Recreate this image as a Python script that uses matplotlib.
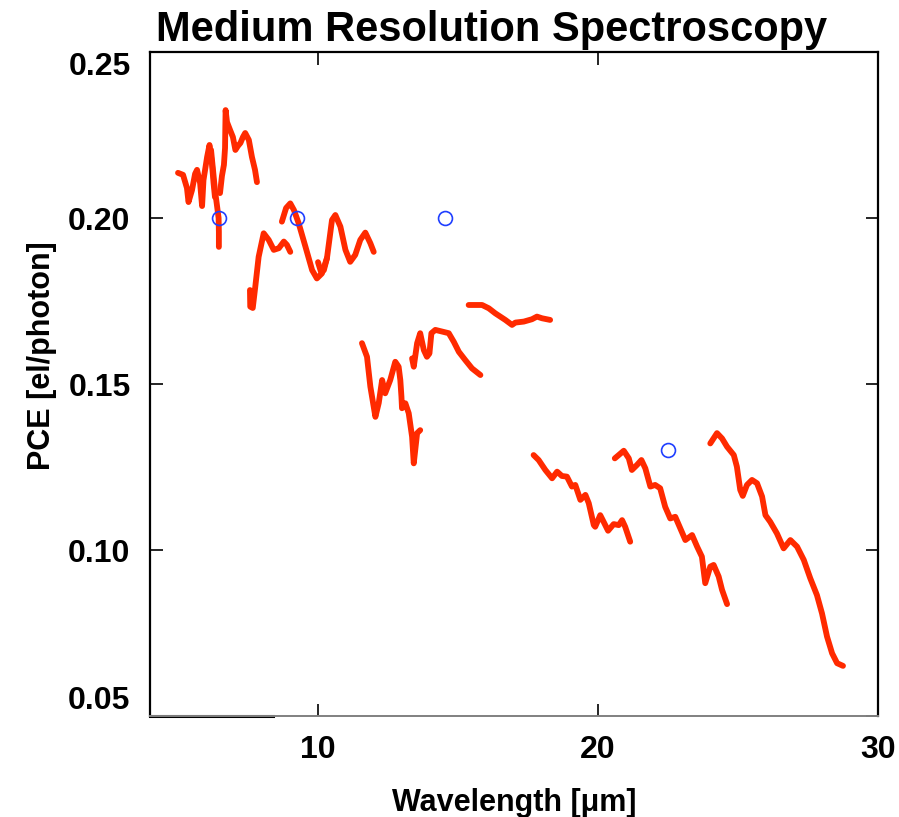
import matplotlib
matplotlib.use("Agg")
import numpy as np
from matplotlib import pyplot as plt

plt.rcParams['font.family'] = ['Liberation Sans', 'DejaVu Sans']
plt.rcParams['font.weight'] = 'bold'

# PCE curves, one per spectral sub-band (wavelength in um, PCE in el/photon)
wl_1 = [5.00, 5.18, 5.32, 5.375, 5.50, 5.61, 5.68, 5.79, 5.86, 5.91, 6.04, 6.125, 6.21, 6.27, 6.32]
pce_1 = [0.2136, 0.2130, 0.2090, 0.2048, 0.2084, 0.2133, 0.2145, 0.2105, 0.2036, 0.2114, 0.2184, 0.2220, 0.2166, 0.2105, 0.2063]

wl_2 = [6.18, 6.25, 6.32, 6.39, 6.45, 6.46, 6.46]
pce_2 = [0.2205, 0.2145, 0.2084, 0.2039, 0.2000, 0.1958, 0.1913]

wl_3 = [6.50, 6.57, 6.64, 6.68, 6.69, 6.70, 6.75, 6.86, 6.96, 7.05, 7.14, 7.23, 7.32, 7.40, 7.53, 7.64, 7.75, 7.82]
pce_3 = [0.2075, 0.2127, 0.2160, 0.2211, 0.2271, 0.2325, 0.2289, 0.2265, 0.2244, 0.2205, 0.2217, 0.2226, 0.2244, 0.2256, 0.2235, 0.2184, 0.2145, 0.2108]

wl_4 = [7.57, 7.58, 7.67, 7.76, 7.88, 8.06, 8.24, 8.42, 8.60, 8.78, 8.89, 9.01]
pce_4 = [0.1783, 0.1733, 0.1729, 0.1793, 0.1883, 0.1954, 0.1934, 0.1904, 0.1909, 0.1929, 0.1919, 0.1898]

wl_5 = [8.71, 8.86, 9.01, 9.14, 9.31, 9.55, 9.79, 9.96, 10.14, 10.32]
pce_5 = [0.1989, 0.2030, 0.2044, 0.2024, 0.1984, 0.1914, 0.1843, 0.1818, 0.1833, 0.1879]

wl_6 = [10.00, 10.11, 10.21, 10.32, 10.50, 10.62, 10.80, 10.98, 11.15, 11.33, 11.51, 11.69, 11.87, 11.99]
pce_6 = [0.1867, 0.1837, 0.1843, 0.1879, 0.1994, 0.2009, 0.1974, 0.1904, 0.1868, 0.1889, 0.1934, 0.1956, 0.1924, 0.1898]

wl_7 = [11.57, 11.75, 11.87, 12.05, 12.17, 12.29, 12.40, 12.58, 12.76, 12.88, 12.94, 12.98, 13.00, 13.12, 13.24, 13.36, 13.42, 13.54, 13.65]
pce_7 = [0.1623, 0.1582, 0.1492, 0.1401, 0.1443, 0.1512, 0.1472, 0.1512, 0.1567, 0.1552, 0.1512, 0.1462, 0.1427, 0.1442, 0.1412, 0.1341, 0.1261, 0.1352, 0.1361]

wl_8 = [13.36, 13.42, 13.54, 13.65, 13.78, 13.89, 13.98, 14.05, 14.19, 14.43, 14.67, 14.85, 15.03, 15.26, 15.50, 15.80]
pce_8 = [0.1577, 0.1552, 0.1623, 0.1653, 0.1602, 0.1582, 0.1592, 0.1653, 0.1663, 0.1658, 0.1653, 0.1627, 0.1597, 0.1572, 0.1547, 0.1527]

wl_9 = [15.38, 15.86, 16.10, 16.33, 16.69, 16.93, 17.05, 17.35, 17.64, 17.82, 18.00, 18.29]
pce_9 = [0.1738, 0.1738, 0.1728, 0.1713, 0.1693, 0.1678, 0.1685, 0.1688, 0.1695, 0.1703, 0.1698, 0.1693]

wl_10 = [17.70, 17.88, 18.12, 18.36, 18.54, 18.71, 18.89, 19.07, 19.19, 19.37, 19.55, 19.67, 19.85, 19.90, 20.08, 20.20, 20.36, 20.56, 20.74, 20.86, 20.97, 21.15]
pce_10 = [0.1286, 0.1271, 0.1241, 0.1216, 0.1236, 0.1223, 0.1221, 0.1191, 0.1196, 0.1151, 0.1166, 0.1141, 0.1075, 0.1070, 0.1105, 0.1085, 0.1058, 0.1078, 0.1075, 0.1090, 0.1070, 0.1025]

wl_11 = [20.60, 20.74, 20.92, 21.10, 21.21, 21.39, 21.55, 21.69, 21.87, 22.04, 22.22, 22.40, 22.58, 22.76, 22.94, 23.12, 23.36, 23.54, 23.71, 23.83, 24.01, 24.13, 24.31, 24.43, 24.61]
pce_11 = [0.1276, 0.1286, 0.1299, 0.1276, 0.1241, 0.1256, 0.1271, 0.1246, 0.1191, 0.1196, 0.1186, 0.1130, 0.1095, 0.1100, 0.1065, 0.1030, 0.1045, 0.1010, 0.0980, 0.0900, 0.0950, 0.0955, 0.0920, 0.0880, 0.0837]

wl_12 = [24.01, 24.25, 24.43, 24.61, 24.85, 24.96, 25.08, 25.17, 25.32, 25.50, 25.68, 25.86, 25.98, 26.15, 26.39, 26.63, 26.87, 27.11, 27.35, 27.58, 27.82, 28.00, 28.18, 28.36, 28.54, 28.75]
pce_12 = [0.1321, 0.1352, 0.1336, 0.1311, 0.1286, 0.1251, 0.1181, 0.1163, 0.1196, 0.1211, 0.1201, 0.1161, 0.1105, 0.1085, 0.1050, 0.1005, 0.1030, 0.1010, 0.0970, 0.0915, 0.0864, 0.0809, 0.0739, 0.0689, 0.0659, 0.0651]

# requirement points
req_wl = [6.45, 9.25, 14.54, 22.5]
req_pce = [0.20, 0.20, 0.20, 0.13]

segments = [(wl_1, pce_1), (wl_2, pce_2), (wl_3, pce_3), (wl_4, pce_4),
            (wl_5, pce_5), (wl_6, pce_6), (wl_7, pce_7), (wl_8, pce_8),
            (wl_9, pce_9), (wl_10, pce_10), (wl_11, pce_11), (wl_12, pce_12)]

fig = plt.figure(figsize=(8.99, 8.17), dpi=100)
ax = fig.add_axes([150 / 899, 101 / 817, 728 / 899, 664 / 817])

red = '#ff2a00'
for wl, pce in segments:
    ax.plot(wl, pce, color=red, lw=4.2, solid_capstyle='round', solid_joinstyle='round')

ax.plot(req_wl, req_pce, 'o', mfc='none', mec='#1f3fff', ms=10, mew=1.2)

ax.set_xlim(4, 30)
ax.set_ylim(0.05, 0.25)
ax.set_xticks([10, 20, 30])
ax.set_yticks([0.05, 0.10, 0.15, 0.20, 0.25])
ax.set_yticklabels(['0.05', '0.10', '0.15', '0.20', '0.25'])
ax.tick_params(direction='in', length=9, width=1.2, top=True, right=True,
               labelsize=23, pad=14)
ylabels = ax.get_yticklabels()
ylabels[0].set_va('bottom')
ylabels[-1].set_va('top')

for side in ['left', 'top', 'right']:
    ax.spines[side].set_linewidth(1.6)
    ax.spines[side].set_color('black')
ax.spines['bottom'].set_color('#808080')
ax.spines['bottom'].set_linewidth(1.4)
ax.axhline(0.05, xmin=0, xmax=123 / 728, color='black', lw=2.2, clip_on=False)

ax.set_xlabel('Wavelength [μm]', fontsize=22, fontweight='bold', labelpad=16)
ax.set_ylabel('PCE [el/photon]', fontsize=22, fontweight='bold', labelpad=8, y=0.542)
fig.text(492 / 899, 1 - 30 / 817, 'Medium Resolution Spectroscopy',
         ha='center', va='center', fontsize=30, fontweight='bold')

fig.savefig('out.png', dpi=100)
